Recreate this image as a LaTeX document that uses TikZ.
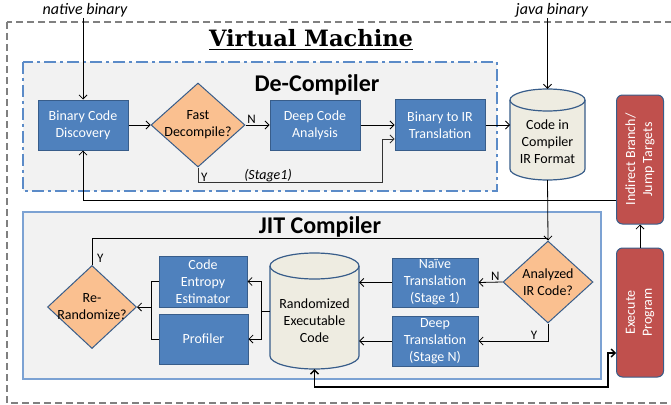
\documentclass[tikz,border=0pt]{standalone}
\usepackage{fontspec}
\setmainfont{Carlito}
\newfontfamily\titlefont{DejaVu Serif}
\usetikzlibrary{arrows.meta,shapes.geometric,calc}
\definecolor{bluefill}{HTML}{4F81BD}
\definecolor{blueline}{HTML}{385D8A}
\definecolor{orfill}{HTML}{FAC090}
\definecolor{cylfill}{HTML}{EEECE1}
\definecolor{redfill}{HTML}{C0504D}
\definecolor{panel}{HTML}{F2F2F2}
\definecolor{panelline}{HTML}{5B8BC8}
\definecolor{outerline}{HTML}{808080}
\tikzset{
  bluebox/.style={rectangle, fill=bluefill, draw=blueline, line width=1pt, text=white, align=center,
    font=\fontsize{14}{17}\selectfont, inner sep=0pt},
  redbox/.style={rectangle, rounded corners=6pt, fill=redfill, draw=blueline, line width=1pt, text=white, align=center,
    font=\fontsize{14}{17}\selectfont, inner sep=0pt, minimum width=47pt, minimum height=129pt},
  decision/.style={diamond, fill=orfill, draw=blueline, line width=1pt, inner sep=0pt},
  dtext/.style={align=center, font=\fontsize{14}{17}\selectfont, inner sep=0pt},
  arr/.style={-{Straight Barb[length=4pt,width=8pt]}, line width=0.8pt},
  conn/.style={line width=0.8pt},
  lbl/.style={font=\fontsize{13}{15}\selectfont, inner sep=1pt},
}
\begin{document}
\begin{tikzpicture}[x=1pt,y=-1pt]
\useasboundingbox (0,0) rectangle (671,404);
% outer frame
\draw[outerline, line width=1.2pt, dash pattern=on 7pt off 4pt] (7,22) rectangle (690,403);
\node[font=\titlefont\bfseries\fontsize{22.5}{26}\selectfont, anchor=base, inner sep=0pt] (vm) at (311,47) {\underline{Virtual Machine}};

% De-Compiler panel
\draw[fill=panel, draw=panelline, line width=1.2pt, dash pattern=on 12pt off 4pt on 3pt off 4pt] (23,62) rectangle (497,191);
\node[font=\bfseries\fontsize{24}{28}\selectfont, anchor=base, inner sep=0pt] (dct) at (317,91) {De-Compiler};

% JIT panel
\draw[fill=panel, draw=panelline!80, line width=1.2pt] (23,212) rectangle (601,379);
\node[font=\bfseries\fontsize{24}{28}\selectfont, anchor=base, inner sep=0pt] (jitt) at (320,233) {JIT Compiler};

% top labels
\node[font=\itshape\fontsize{16}{19}\selectfont, anchor=base, inner sep=1pt] (nbt) at (85,15) {native binary};
\node[font=\itshape\fontsize{16}{19}\selectfont, anchor=base, inner sep=1pt] (jbt) at (552,15) {java binary};

% De-compiler nodes
\node[bluebox, minimum width=90pt, minimum height=50pt] (bcd) at (83,125) {Binary Code\\Discovery};
\node[decision, minimum width=94pt, minimum height=84pt, aspect=1.12] (fd) at (198,125) {};
\node[dtext] (fdt) at (198,125) {Fast\\Decompile?};
\node[bluebox, minimum width=90pt, minimum height=50pt] (dca) at (315,125) {Deep Code\\Analysis};
\node[bluebox, minimum width=90pt, minimum height=51pt] (bir) at (440,125) {Binary to IR\\Translation};

% cylinder 1
\node[minimum width=75pt, minimum height=91pt, inner sep=0pt] (c1) at (547.5,134.5) {};
\fill[cylfill] (510,100) -- (510,169) arc[start angle=180,end angle=360,x radius=37.5pt,y radius=11pt] -- (585,100)
  arc[start angle=0,end angle=180,x radius=37.5pt,y radius=11pt] -- cycle;
\draw[blueline, line width=1.2pt] (510,100) -- (510,169) arc[start angle=180,end angle=360,x radius=37.5pt,y radius=11pt] -- (585,100)
  arc[start angle=0,end angle=180,x radius=37.5pt,y radius=11pt];
\draw[blueline, line width=1.2pt] (585,100) arc[start angle=0,end angle=-180,x radius=37.5pt,y radius=11pt];
\node[dtext] (c1t) at (547.5,142) {Code in\\Compiler\\IR Format};

% red boxes
\node[redbox] (ib) at (640,159.5) {};
\node[dtext, text=white, rotate=90] (ibt) at (640,159.5) {Indirect Branch/\\Jump Targets};
\node[redbox] (ep) at (640,312.5) {};
\node[dtext, text=white, rotate=90] (ept) at (640,312.5) {Execute\\Program};

% JIT nodes
\node[decision, minimum width=89pt, minimum height=83pt, aspect=1.07] (rr) at (92,307) {};
\node[dtext] (rrt) at (92,307) {Re-\\Randomize?};
\node[bluebox, minimum width=88pt, minimum height=51pt] (cee) at (203,281.5) {Code\\Entropy\\Estimator};
\node[bluebox, minimum width=89pt, minimum height=50pt] (prof) at (203.5,339) {Profiler};

% cylinder 2
\node[minimum width=89pt, minimum height=116pt, inner sep=0pt] (c2) at (314.5,311) {};
\fill[cylfill] (270,266) -- (270,356) arc[start angle=180,end angle=360,x radius=44.5pt,y radius=13pt] -- (359,266)
  arc[start angle=0,end angle=180,x radius=44.5pt,y radius=13pt] -- cycle;
\draw[blueline, line width=1.2pt] (270,266) -- (270,356) arc[start angle=180,end angle=360,x radius=44.5pt,y radius=13pt] -- (359,266)
  arc[start angle=0,end angle=180,x radius=44.5pt,y radius=13pt];
\draw[blueline, line width=1.2pt] (359,266) arc[start angle=0,end angle=-180,x radius=44.5pt,y radius=13pt];
\node[dtext] (c2t) at (314.5,321) {Randomized\\Executable\\Code};

\node[bluebox, minimum width=86pt, minimum height=49pt] (nt) at (435,282.5) {Naïve\\Translation\\(Stage 1)};
\node[bluebox, minimum width=86pt, minimum height=50pt] (dt) at (435,341) {Deep\\Translation\\(Stage N)};
\node[decision, minimum width=90pt, minimum height=82pt, aspect=1.1] (an) at (548,282) {};
\node[dtext] (ant) at (548,282) {Analyzed\\IR Code?};

% connectors: de-compiler
\draw[arr] (bcd.north |- 0,18) -- (bcd.north);
\draw[arr] (c1.north |- 0,18) -- (c1.north);
\draw[arr] (bcd.east) -- (fd.west);
\draw[arr] (fd.east) -- node[lbl, above, pos=0.25] (nlab1) {N} (dca.west);
\draw[arr] (dca.east) -- (bir.west);
\coordinate (ycorner) at (382,182);
\draw[arr, black!80] (fd.south) |- (ycorner) |- ([yshift=-14pt]bir.west);
\node[lbl, anchor=base west] (ylab1) at (200,181) {Y};
\node[lbl, font=\itshape\fontsize{14}{16}\selectfont, anchor=base] (stg) at (268,179) {(Stage1)};
\draw[arr] (bir.east) -- (510,125);
\draw[arr] ([yshift=-40.5pt]ib.west) -| (bcd.south);
\draw[arr] (ep.north) -- (ib.south);

% connectors: JIT
\draw[arr] (c1.south) -- (an.north);
\draw[conn] (rr.north) |- ([yshift=2pt]an.north);
\node[lbl, anchor=base west] (ylab2) at (96,262) {Y};
\draw[arr] (an.west) -- node[lbl, above, pos=0.3] (nlab2) {N} (nt.east);
\draw[arr] (an.south) |- node[lbl, above, pos=0.6] (ylab3) {Y} (dt.east);
\draw[arr] (nt.west) -- (nt.west -| c2.east);
\draw[arr] (dt.west) -- (dt.west -| c2.east);
\draw[arr] (c2.west) -- ++(-8pt,0) |- (cee.east);
\draw[arr] (c2.west) -- ++(-8pt,0) |- (prof.east);
\coordinate (jn) at ([xshift=-7pt]cee.west);
\draw[conn] (cee.west) -- (jn) |- (prof.west);
\draw[arr] (jn |- rr.east) -- (rr.east);
\coordinate (d1) at (608,387);
\draw[{Straight Barb[length=4pt,width=8pt]}-{Straight Barb[length=4pt,width=8pt]}, line width=1.4pt] (c2.south) |- (d1) |- ([yshift=-40.5pt]ep.west);
\end{tikzpicture}
\end{document}
